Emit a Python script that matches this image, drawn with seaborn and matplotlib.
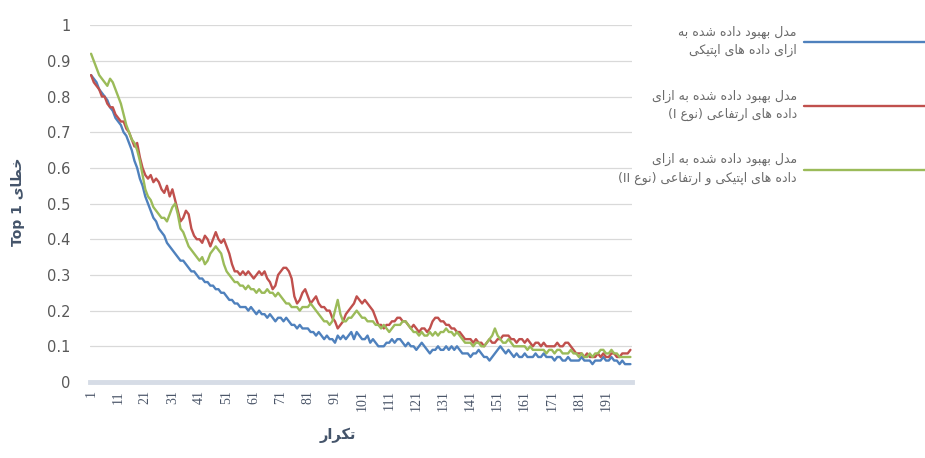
import numpy as np
import pandas as pd
import matplotlib
matplotlib.use('Agg')
import matplotlib.pyplot as plt
import seaborn as sns

# Top-1 error per iteration for the three models
blue = [
    0.86, 0.85, 0.84, 0.82, 0.81, 0.80, 0.79, 0.77, 0.76, 0.74,
    0.73, 0.72, 0.70, 0.69, 0.67, 0.65, 0.62, 0.60, 0.57, 0.55,
    0.52, 0.50, 0.48, 0.46, 0.45, 0.43, 0.42, 0.41, 0.39, 0.38,
    0.37, 0.36, 0.35, 0.34, 0.34, 0.33, 0.32, 0.31, 0.31, 0.30,
    0.29, 0.29, 0.28, 0.28, 0.27, 0.27, 0.26, 0.26, 0.25, 0.25,
    0.24, 0.23, 0.23, 0.22, 0.22, 0.21, 0.21, 0.21, 0.20, 0.21,
    0.20, 0.19, 0.20, 0.19, 0.19, 0.18, 0.19, 0.18, 0.17, 0.18,
    0.18, 0.17, 0.18, 0.17, 0.16, 0.16, 0.15, 0.16, 0.15, 0.15,
    0.15, 0.14, 0.14, 0.13, 0.14, 0.13, 0.12, 0.13, 0.12, 0.12,
    0.11, 0.13, 0.12, 0.13, 0.12, 0.13, 0.14, 0.12, 0.14, 0.13,
    0.12, 0.12, 0.13, 0.11, 0.12, 0.11, 0.10, 0.10, 0.10, 0.11,
    0.11, 0.12, 0.11, 0.12, 0.12, 0.11, 0.10, 0.11, 0.10, 0.10,
    0.09, 0.10, 0.11, 0.10, 0.09, 0.08, 0.09, 0.09, 0.10, 0.09,
    0.09, 0.10, 0.09, 0.10, 0.09, 0.10, 0.09, 0.08, 0.08, 0.08,
    0.07, 0.08, 0.08, 0.09, 0.08, 0.07, 0.07, 0.06, 0.07, 0.08,
    0.09, 0.10, 0.09, 0.08, 0.09, 0.08, 0.07, 0.08, 0.07, 0.07,
    0.08, 0.07, 0.07, 0.07, 0.08, 0.07, 0.07, 0.08, 0.07, 0.07,
    0.07, 0.06, 0.07, 0.07, 0.06, 0.06, 0.07, 0.06, 0.06, 0.06,
    0.06, 0.07, 0.06, 0.06, 0.06, 0.05, 0.06, 0.06, 0.06, 0.07,
    0.06, 0.06, 0.07, 0.06, 0.06, 0.05, 0.06, 0.05, 0.05, 0.05,
]
red = [
    0.86, 0.84, 0.83, 0.82, 0.80, 0.80, 0.78, 0.77, 0.77, 0.75,
    0.74, 0.73, 0.73, 0.71, 0.70, 0.68, 0.66, 0.67, 0.63, 0.60,
    0.58, 0.57, 0.58, 0.56, 0.57, 0.56, 0.54, 0.53, 0.55, 0.52,
    0.54, 0.51, 0.48, 0.45, 0.46, 0.48, 0.47, 0.43, 0.41, 0.40,
    0.40, 0.39, 0.41, 0.40, 0.38, 0.40, 0.42, 0.40, 0.39, 0.40,
    0.38, 0.36, 0.33, 0.31, 0.31, 0.30, 0.31, 0.30, 0.31, 0.30,
    0.29, 0.30, 0.31, 0.30, 0.31, 0.29, 0.28, 0.26, 0.27, 0.30,
    0.31, 0.32, 0.32, 0.31, 0.29, 0.24, 0.22, 0.23, 0.25, 0.26,
    0.24, 0.22, 0.23, 0.24, 0.22, 0.21, 0.21, 0.20, 0.20, 0.18,
    0.17, 0.15, 0.16, 0.17, 0.19, 0.20, 0.21, 0.22, 0.24, 0.23,
    0.22, 0.23, 0.22, 0.21, 0.20, 0.18, 0.16, 0.16, 0.15, 0.16,
    0.16, 0.17, 0.17, 0.18, 0.18, 0.17, 0.17, 0.16, 0.15, 0.16,
    0.15, 0.14, 0.15, 0.15, 0.14, 0.15, 0.17, 0.18, 0.18, 0.17,
    0.17, 0.16, 0.16, 0.15, 0.15, 0.14, 0.14, 0.13, 0.12, 0.12,
    0.12, 0.11, 0.12, 0.11, 0.11, 0.10, 0.11, 0.12, 0.11, 0.11,
    0.12, 0.12, 0.13, 0.13, 0.13, 0.12, 0.12, 0.11, 0.12, 0.12,
    0.11, 0.12, 0.11, 0.10, 0.11, 0.11, 0.10, 0.11, 0.10, 0.10,
    0.10, 0.10, 0.11, 0.10, 0.10, 0.11, 0.11, 0.10, 0.09, 0.08,
    0.08, 0.08, 0.07, 0.08, 0.07, 0.07, 0.07, 0.08, 0.07, 0.08,
    0.07, 0.07, 0.08, 0.08, 0.07, 0.07, 0.08, 0.08, 0.08, 0.09,
]
green = [
    0.92, 0.90, 0.88, 0.86, 0.85, 0.84, 0.83, 0.85, 0.84, 0.82,
    0.80, 0.78, 0.75, 0.72, 0.70, 0.68, 0.67, 0.65, 0.62, 0.58,
    0.54, 0.52, 0.51, 0.49, 0.48, 0.47, 0.46, 0.46, 0.45, 0.47,
    0.49, 0.50, 0.47, 0.43, 0.42, 0.40, 0.38, 0.37, 0.36, 0.35,
    0.34, 0.35, 0.33, 0.34, 0.36, 0.37, 0.38, 0.37, 0.36, 0.33,
    0.31, 0.30, 0.29, 0.28, 0.28, 0.27, 0.27, 0.26, 0.27, 0.26,
    0.26, 0.25, 0.26, 0.25, 0.25, 0.26, 0.25, 0.25, 0.24, 0.25,
    0.24, 0.23, 0.22, 0.22, 0.21, 0.21, 0.21, 0.20, 0.21, 0.21,
    0.21, 0.22, 0.21, 0.20, 0.19, 0.18, 0.17, 0.17, 0.16, 0.17,
    0.20, 0.23, 0.19, 0.17, 0.17, 0.18, 0.18, 0.19, 0.20, 0.19,
    0.18, 0.18, 0.17, 0.17, 0.17, 0.16, 0.16, 0.15, 0.16, 0.15,
    0.14, 0.15, 0.16, 0.16, 0.16, 0.17, 0.17, 0.16, 0.15, 0.14,
    0.14, 0.13, 0.14, 0.13, 0.13, 0.14, 0.13, 0.14, 0.13, 0.14,
    0.14, 0.15, 0.14, 0.14, 0.13, 0.14, 0.13, 0.12, 0.11, 0.11,
    0.11, 0.10, 0.11, 0.11, 0.10, 0.10, 0.11, 0.12, 0.13, 0.15,
    0.13, 0.12, 0.11, 0.11, 0.12, 0.11, 0.10, 0.10, 0.10, 0.10,
    0.10, 0.09, 0.10, 0.09, 0.09, 0.09, 0.09, 0.09, 0.08, 0.09,
    0.09, 0.08, 0.09, 0.09, 0.08, 0.08, 0.08, 0.09, 0.08, 0.08,
    0.07, 0.08, 0.07, 0.07, 0.08, 0.07, 0.08, 0.08, 0.09, 0.09,
    0.08, 0.08, 0.09, 0.08, 0.08, 0.07, 0.07, 0.07, 0.07, 0.07,
]
iterations = list(range(1, len(blue) + 1))
xtick_values = list(range(1, 200, 10))
ytick_values = [0, 0.1, 0.2, 0.3, 0.4, 0.5, 0.6, 0.7, 0.8, 0.9, 1]
ytick_labels = ['0', '0.1', '0.2', '0.3', '0.4', '0.5', '0.6', '0.7', '0.8', '0.9', '1']
models = ['optical', 'elevation_I', 'optical_elevation_II']
colors = ['#4F81BD', '#C0504D', '#9BBB59']

# --- minimal Persian shaping (matplotlib has no complex text layout) ---
FORMS = {
    'ا': ('\uFE8D', '\uFE8E', None, None),
    'ب': ('\uFE8F', '\uFE90', '\uFE91', '\uFE92'),
    'پ': ('\uFB56', '\uFB57', '\uFB58', '\uFB59'),
    'ت': ('\uFE95', '\uFE96', '\uFE97', '\uFE98'),
    'خ': ('\uFEA5', '\uFEA6', '\uFEA7', '\uFEA8'),
    'د': ('\uFEA9', '\uFEAA', None, None),
    'ر': ('\uFEAD', '\uFEAE', None, None),
    'ز': ('\uFEAF', '\uFEB0', None, None),
    'ش': ('\uFEB5', '\uFEB6', '\uFEB7', '\uFEB8'),
    'ط': ('\uFEC1', '\uFEC2', '\uFEC3', '\uFEC4'),
    'ع': ('\uFEC9', '\uFECA', '\uFECB', '\uFECC'),
    'ف': ('\uFED1', '\uFED2', '\uFED3', '\uFED4'),
    'ک': ('\uFB8E', '\uFB8F', '\uFB90', '\uFB91'),
    'ل': ('\uFEDD', '\uFEDE', '\uFEDF', '\uFEE0'),
    'م': ('\uFEE1', '\uFEE2', '\uFEE3', '\uFEE4'),
    'ن': ('\uFEE5', '\uFEE6', '\uFEE7', '\uFEE8'),
    'ه': ('\uFEE9', '\uFEEA', '\uFEEB', '\uFEEC'),
    'و': ('\uFEED', '\uFEEE', None, None),
    'ی': ('\uFBFC', '\uFBFD', '\uFBFE', '\uFBFF'),
}


def fa(text):
    out = []
    for i, c in enumerate(text):
        if c not in FORMS:
            out.append(c)
            continue
        prev = text[i - 1] if i > 0 else ''
        nxt = text[i + 1] if i + 1 < len(text) else ''
        f = FORMS[c]
        jp = prev in FORMS and FORMS[prev][2] is not None
        jn = nxt in FORMS and f[2] is not None
        if jp and jn:
            out.append(f[3])
        elif jp:
            out.append(f[1])
        elif jn:
            out.append(f[2])
        else:
            out.append(f[0])
    return ''.join(out)[::-1]


legend_labels = [
    fa('مدل بهبود داده شده به') + '\n' + fa('ازای داده های اپتیکی'),
    fa('مدل بهبود داده شده به ازای') + '\n(I ' + fa('نوع') + ') ' + fa('داده های ارتفاعی'),
    fa('مدل بهبود داده شده به ازای') + '\n(II ' + fa('نوع') + ') ' + fa('داده های اپتیکی و ارتفاعی'),
]
ylabel = 'Top 1 ' + fa('خطای')
xlabel = fa('تکرار')

df = pd.DataFrame({
    'iteration': iterations * 3,
    'error': blue + red + green,
    'model': [m for m in models for _ in iterations],
})

sns.set_style('white')
plt.rcParams['font.family'] = ['DejaVu Sans']

fig = plt.figure(figsize=(9.25, 4.58), dpi=100)
ax = fig.add_axes([0.097, 0.166, 0.586, 0.779])

sns.lineplot(data=df, x='iteration', y='error', hue='model', hue_order=models,
             palette=colors, linewidth=1.7, legend=False, ax=ax)
series_lines = list(ax.lines)

ax.set_axisbelow(True)
ax.yaxis.grid(True, color='#D9D9D9', lw=0.9)
ax.set_xlim(0.5, 200.5)
ax.set_ylim(0, 1)
for s in ['top', 'right', 'left']:
    ax.spines[s].set_visible(False)
ax.spines['bottom'].set_color('#D6DCE6')
ax.spines['bottom'].set_linewidth(3.5)

ax.set_yticks(ytick_values)
ax.set_yticklabels(ytick_labels, fontsize=10.5, color='#595959')
ax.set_xticks(xtick_values)
ax.set_xticklabels([str(v) for v in xtick_values], rotation=90, fontsize=10,
                   color='#4A5568', fontfamily='Liberation Serif')
ax.tick_params(axis='y', length=0, pad=14)
ax.tick_params(axis='x', length=0, pad=6)
ax.set_xlabel('')
ax.set_ylabel('')

fig.text(0.019, 0.56, ylabel, rotation=90, ha='center', va='center',
         fontsize=10, fontweight='bold', color='#44546A')
fig.text(0.365, 0.05, xlabel, ha='center', va='center',
         fontsize=10.5, fontweight='bold', color='#44546A')

leg = ax.legend(series_lines, legend_labels, loc='upper right',
                bbox_to_anchor=(1.01, 0.955), bbox_transform=fig.transFigure,
                frameon=False, markerfirst=False, handlelength=10,
                handletextpad=0.6, labelspacing=2.6, fontsize=9,
                borderaxespad=0)
for t in leg.get_texts():
    t.set_multialignment('right')
    t.set_linespacing(1.5)
    t.set_color('#6B6B6B')

plt.savefig('out.png', dpi=100)
